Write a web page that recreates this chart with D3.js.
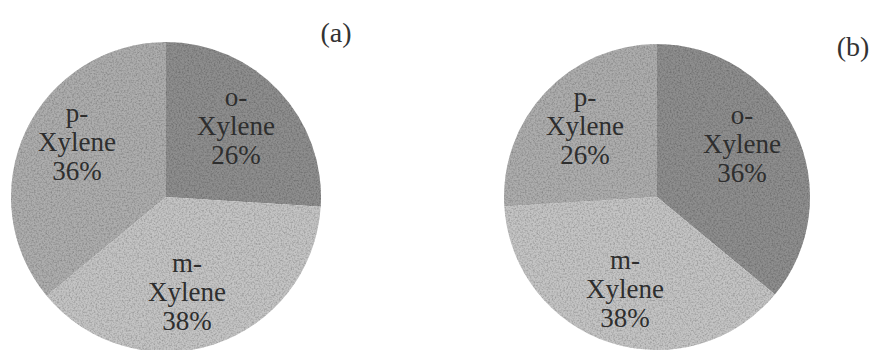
<!DOCTYPE html>
<html><head><meta charset="utf-8">
<script src="https://cdn.jsdelivr.net/npm/d3@7"></script>
<style>html,body{margin:0;padding:0;background:#fff;}svg{display:block;}</style>
</head><body>
<svg id="chart" width="875" height="350"></svg>
<script>
const categories = ["o-Xylene", "m-Xylene", "p-Xylene"];
const prefixes = ["o-", "m-", "p-"];
const valuesA = [26, 38, 36];
const valuesB = [36, 38, 26];
const panelLabels = ["(a)", "(b)"];
const colors = ["#8e8e8e", "#c4c4c4", "#adadad"];
const SERIF = '"Liberation Serif", Tinos, "Times New Roman", serif';

const svg = d3.select("#chart");
const defs = svg.append("defs");
const f = defs.append("filter").attr("id","grain").attr("x","0").attr("y","0").attr("width","1").attr("height","1");
f.append("feTurbulence").attr("type","fractalNoise").attr("baseFrequency","0.6").attr("numOctaves","2").attr("seed","3").attr("result","noise");
f.append("feColorMatrix").attr("in","noise").attr("type","matrix")
 .attr("values","0 0 0 0 0  0 0 0 0 0  0 0 0 0 0  0 0 0 0.9 -0.35").attr("result","dots");
f.append("feComposite").attr("in","dots").attr("in2","SourceGraphic").attr("operator","in").attr("result","dm");
f.append("feMerge").call(m=>{m.append("feMergeNode").attr("in","SourceGraphic");m.append("feMergeNode").attr("in","dm");});

const pie = d3.pie().sort(null).value(d=>d);

const panels = [
  {values: valuesA, cx:166, cy:197, r:155, label: panelLabels[0], lx:336, ly:42,
   textPos: [[236,97],[187,263],[77,113]]},
  {values: valuesB, cx:657, cy:197, r:153, label: panelLabels[1], lx:853, ly:56,
   textPos: [[742,115],[625,260],[585,97]]}
];

panels.forEach(p => {
  const arc = d3.arc().innerRadius(0).outerRadius(p.r);
  const g = svg.append("g").attr("transform",`translate(${p.cx},${p.cy})`).attr("filter","url(#grain)");
  g.selectAll("path").data(pie(p.values)).join("path")
    .attr("d", arc).attr("fill",(d,i)=>colors[i]);
  const tg = svg.append("g");
  p.values.forEach((v,i)=>{
    const [x,y] = p.textPos[i];
    [prefixes[i], "Xylene", v + "%"].forEach((s,k)=>{
      tg.append("text").attr("x",x).attr("y",y+9+k*29)
        .attr("text-anchor","middle")
        .style("font-family",SERIF).style("font-size","27px")
        .attr("fill","#2e2e2e").text(s);
    });
  });
  svg.append("text").attr("x",p.lx).attr("y",p.ly).attr("text-anchor","middle")
    .style("font-family",SERIF).style("font-size","28px").attr("fill","#333").text(p.label);
});
</script>
</body></html>
